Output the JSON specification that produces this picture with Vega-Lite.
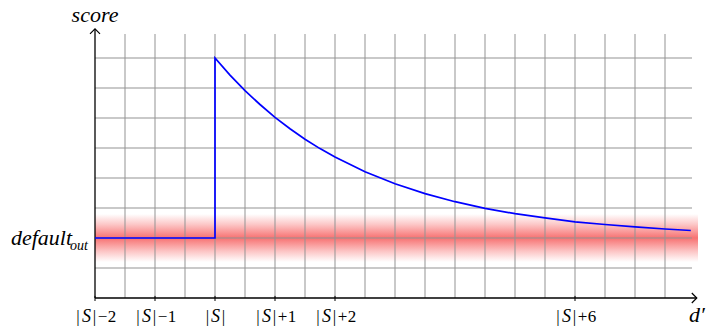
{
  "$schema": "https://vega.github.io/schema/vega-lite/v6.json",
  "width": 600,
  "height": 270,
  "autosize": {"type": "none"},
  "padding": {"left": 95, "top": 28, "right": 11, "bottom": 28},
  "background": "white",
  "config": {"view": {"stroke": null}},
  "datasets": {
    "band": [{"x0": -2, "x1": 8.05, "y0": 1.2, "y1": 2.8}],
    "vgrid": [{"x": -1.5}, {"x": -1}, {"x": -0.5}, {"x": 0}, {"x": 0.5}, {"x": 1}, {"x": 1.5}, {"x": 2}, {"x": 2.5}, {"x": 3}, {"x": 3.5}, {"x": 4}, {"x": 4.5}, {"x": 5}, {"x": 5.5}, {"x": 6}, {"x": 6.5}, {"x": 7}, {"x": 7.5}],
    "hgrid": [{"y": 1}, {"y": 2}, {"y": 3}, {"y": 4}, {"y": 5}, {"y": 6}, {"y": 7}, {"y": 8}],
    "ticks": [
      {"x": -2, "sign": "−", "digit": "2"},
      {"x": -1, "sign": "−", "digit": "1"},
      {"x": 0, "sign": "", "digit": ""},
      {"x": 1, "sign": "+", "digit": "1"},
      {"x": 2, "sign": "+", "digit": "2"},
      {"x": 6, "sign": "+", "digit": "6"}
    ],
    "score": [
      {"i": 0, "d": -2, "s": 2},
      {"i": 1, "d": 0, "s": 2},
      {"i": 2, "d": 0, "s": 8},
      {"i": 3, "d": 0.25, "s": 7.43},
      {"i": 4, "d": 0.5, "s": 6.91},
      {"i": 5, "d": 0.75, "s": 6.45},
      {"i": 6, "d": 1, "s": 6.02},
      {"i": 7, "d": 1.25, "s": 5.64},
      {"i": 8, "d": 1.5, "s": 5.29},
      {"i": 9, "d": 1.75, "s": 4.98},
      {"i": 10, "d": 2, "s": 4.70},
      {"i": 11, "d": 2.5, "s": 4.21},
      {"i": 12, "d": 3, "s": 3.81},
      {"i": 13, "d": 3.5, "s": 3.48},
      {"i": 14, "d": 4, "s": 3.21},
      {"i": 15, "d": 4.5, "s": 2.99},
      {"i": 16, "d": 5, "s": 2.81},
      {"i": 17, "d": 5.5, "s": 2.67},
      {"i": 18, "d": 6, "s": 2.54},
      {"i": 19, "d": 6.5, "s": 2.45},
      {"i": 20, "d": 7, "s": 2.37},
      {"i": 21, "d": 7.5, "s": 2.30},
      {"i": 22, "d": 7.93, "s": 2.25}
    ]
  },
  "layer": [
    {
      "data": {"name": "band"},
      "mark": {"type": "rect", "stroke": null, "fill": {"gradient": "linear", "x1": 0, "y1": 0, "x2": 0, "y2": 1, "stops": [{"offset": 0, "color": "#ffffff"}, {"offset": 0.22, "color": "#fcc6c6"}, {"offset": 0.5, "color": "#f77272"}, {"offset": 0.78, "color": "#fcc6c6"}, {"offset": 1, "color": "#ffffff"}]}},
      "encoding": {
        "x": {"field": "x0", "type": "quantitative", "scale": {"domain": [-2, 8], "nice": false, "zero": false}, "axis": null},
        "x2": {"field": "x1"},
        "y": {"field": "y0", "type": "quantitative", "scale": {"domain": [0, 9], "nice": false, "zero": false}, "axis": null},
        "y2": {"field": "y1"}
      }
    },
    {
      "data": {"name": "vgrid"},
      "mark": {"type": "rule", "color": "#939393", "strokeWidth": 1},
      "encoding": {
        "x": {"field": "x", "type": "quantitative", "scale": {"domain": [-2, 8], "nice": false, "zero": false}, "axis": null},
        "y": {"datum": 0, "type": "quantitative", "scale": {"domain": [0, 9], "nice": false, "zero": false}, "axis": null},
        "y2": {"datum": 8.8}
      }
    },
    {
      "data": {"name": "hgrid"},
      "mark": {"type": "rule", "color": "#939393", "strokeWidth": 1},
      "encoding": {
        "y": {"field": "y", "type": "quantitative", "scale": {"domain": [0, 9], "nice": false, "zero": false}, "axis": null},
        "x": {"datum": -2, "type": "quantitative", "scale": {"domain": [-2, 8], "nice": false, "zero": false}, "axis": null},
        "x2": {"datum": 7.95}
      }
    },
    {
      "data": {"values": [{}]},
      "mark": {"type": "rule", "color": "black", "strokeWidth": 1.3},
      "encoding": {
        "x": {"datum": -2, "type": "quantitative", "scale": {"domain": [-2, 8], "nice": false, "zero": false}, "axis": null},
        "x2": {"datum": 8.03},
        "y": {"datum": 0, "type": "quantitative", "scale": {"domain": [0, 9], "nice": false, "zero": false}, "axis": null}
      }
    },
    {
      "data": {"values": [{}]},
      "mark": {"type": "rule", "color": "black", "strokeWidth": 1.3},
      "encoding": {
        "x": {"datum": -2, "type": "quantitative", "scale": {"domain": [-2, 8], "nice": false, "zero": false}, "axis": null},
        "y": {"datum": 0, "type": "quantitative", "scale": {"domain": [0, 9], "nice": false, "zero": false}, "axis": null},
        "y2": {"datum": 8.97}
      }
    },
    {
      "data": {"values": [{}]},
      "mark": {"type": "point", "shape": "M-1,-1L0,0L-1,1", "filled": false, "stroke": "black", "strokeWidth": 1.2, "size": 100, "opacity": 1},
      "encoding": {
        "x": {"datum": 8.03, "type": "quantitative", "scale": {"domain": [-2, 8], "nice": false, "zero": false}, "axis": null},
        "y": {"datum": 0, "type": "quantitative", "scale": {"domain": [0, 9], "nice": false, "zero": false}, "axis": null}
      }
    },
    {
      "data": {"values": [{}]},
      "mark": {"type": "point", "shape": "M-1,1L0,0L1,1", "filled": false, "stroke": "black", "strokeWidth": 1.2, "size": 100, "opacity": 1},
      "encoding": {
        "x": {"datum": -2, "type": "quantitative", "scale": {"domain": [-2, 8], "nice": false, "zero": false}, "axis": null},
        "y": {"datum": 8.97, "type": "quantitative", "scale": {"domain": [0, 9], "nice": false, "zero": false}, "axis": null}
      }
    },
    {
      "data": {"name": "ticks"},
      "mark": {"type": "rule", "color": "black", "strokeWidth": 1},
      "encoding": {
        "x": {"field": "x", "type": "quantitative", "scale": {"domain": [-2, 8], "nice": false, "zero": false}, "axis": null},
        "y": {"datum": -0.1, "type": "quantitative", "scale": {"domain": [0, 9], "nice": false, "zero": false}, "axis": null},
        "y2": {"datum": 0.07}
      }
    },
    {
      "data": {"name": "score"},
      "mark": {"type": "line", "color": "#0000ff", "strokeWidth": 1.7, "interpolate": "linear"},
      "encoding": {
        "x": {"field": "d", "type": "quantitative", "scale": {"domain": [-2, 8], "nice": false, "zero": false}, "axis": null},
        "y": {"field": "s", "type": "quantitative", "scale": {"domain": [0, 9], "nice": false, "zero": false}, "axis": null},
        "order": {"field": "i", "type": "quantitative"}
      }
    },
    {
      "data": {"name": "ticks"},
      "transform": [{"filter": "datum.sign != ''"}],
      "mark": {"type": "text", "text": "|", "font": "Liberation Serif", "fontSize": 17, "baseline": "alphabetic", "align": "center", "dx": -17, "dy": 24, "color": "black"},
      "encoding": {
        "x": {"field": "x", "type": "quantitative", "scale": {"domain": [-2, 8], "nice": false, "zero": false}, "axis": null},
        "y": {"datum": 0, "type": "quantitative", "scale": {"domain": [0, 9], "nice": false, "zero": false}, "axis": null}
      }
    },
    {
      "data": {"name": "ticks"},
      "transform": [{"filter": "datum.sign != ''"}],
      "mark": {"type": "text", "text": "S", "font": "Liberation Serif", "fontStyle": "italic", "fontSize": 18, "baseline": "alphabetic", "align": "center", "dx": -8.5, "dy": 24, "color": "black"},
      "encoding": {
        "x": {"field": "x", "type": "quantitative", "scale": {"domain": [-2, 8], "nice": false, "zero": false}, "axis": null},
        "y": {"datum": 0, "type": "quantitative", "scale": {"domain": [0, 9], "nice": false, "zero": false}, "axis": null}
      }
    },
    {
      "data": {"name": "ticks"},
      "transform": [{"filter": "datum.sign != ''"}],
      "mark": {"type": "text", "text": "|", "font": "Liberation Serif", "fontSize": 17, "baseline": "alphabetic", "align": "center", "dx": -0.5, "dy": 24, "color": "black"},
      "encoding": {
        "x": {"field": "x", "type": "quantitative", "scale": {"domain": [-2, 8], "nice": false, "zero": false}, "axis": null},
        "y": {"datum": 0, "type": "quantitative", "scale": {"domain": [0, 9], "nice": false, "zero": false}, "axis": null}
      }
    },
    {
      "data": {"name": "ticks"},
      "transform": [{"filter": "datum.sign != ''"}],
      "mark": {"type": "text", "font": "Liberation Serif", "fontSize": 17, "baseline": "alphabetic", "align": "center", "dx": 7.5, "dy": 24, "color": "black"},
      "encoding": {
        "x": {"field": "x", "type": "quantitative", "scale": {"domain": [-2, 8], "nice": false, "zero": false}, "axis": null},
        "y": {"datum": 0, "type": "quantitative", "scale": {"domain": [0, 9], "nice": false, "zero": false}, "axis": null},
        "text": {"field": "sign"}
      }
    },
    {
      "data": {"name": "ticks"},
      "transform": [{"filter": "datum.sign != ''"}],
      "mark": {"type": "text", "font": "Liberation Serif", "fontSize": 17, "baseline": "alphabetic", "align": "center", "dx": 17, "dy": 24, "color": "black"},
      "encoding": {
        "x": {"field": "x", "type": "quantitative", "scale": {"domain": [-2, 8], "nice": false, "zero": false}, "axis": null},
        "y": {"datum": 0, "type": "quantitative", "scale": {"domain": [0, 9], "nice": false, "zero": false}, "axis": null},
        "text": {"field": "digit"}
      }
    },
    {
      "data": {"name": "ticks"},
      "transform": [{"filter": "datum.sign == ''"}],
      "mark": {"type": "text", "text": "|", "font": "Liberation Serif", "fontSize": 17, "baseline": "alphabetic", "align": "center", "dx": -7.5, "dy": 24, "color": "black"},
      "encoding": {
        "x": {"field": "x", "type": "quantitative", "scale": {"domain": [-2, 8], "nice": false, "zero": false}, "axis": null},
        "y": {"datum": 0, "type": "quantitative", "scale": {"domain": [0, 9], "nice": false, "zero": false}, "axis": null}
      }
    },
    {
      "data": {"name": "ticks"},
      "transform": [{"filter": "datum.sign == ''"}],
      "mark": {"type": "text", "text": "S", "font": "Liberation Serif", "fontStyle": "italic", "fontSize": 18, "baseline": "alphabetic", "align": "center", "dx": 0.5, "dy": 24, "color": "black"},
      "encoding": {
        "x": {"field": "x", "type": "quantitative", "scale": {"domain": [-2, 8], "nice": false, "zero": false}, "axis": null},
        "y": {"datum": 0, "type": "quantitative", "scale": {"domain": [0, 9], "nice": false, "zero": false}, "axis": null}
      }
    },
    {
      "data": {"name": "ticks"},
      "transform": [{"filter": "datum.sign == ''"}],
      "mark": {"type": "text", "text": "|", "font": "Liberation Serif", "fontSize": 17, "baseline": "alphabetic", "align": "center", "dx": 8.5, "dy": 24, "color": "black"},
      "encoding": {
        "x": {"field": "x", "type": "quantitative", "scale": {"domain": [-2, 8], "nice": false, "zero": false}, "axis": null},
        "y": {"datum": 0, "type": "quantitative", "scale": {"domain": [0, 9], "nice": false, "zero": false}, "axis": null}
      }
    },
    {
      "data": {"values": [{}]},
      "mark": {"type": "text", "text": "score", "font": "Liberation Serif", "fontStyle": "italic", "fontSize": 22, "baseline": "alphabetic", "align": "center", "dy": -7, "color": "black"},
      "encoding": {
        "x": {"datum": -2, "type": "quantitative", "scale": {"domain": [-2, 8], "nice": false, "zero": false}, "axis": null},
        "y": {"datum": 8.97, "type": "quantitative", "scale": {"domain": [0, 9], "nice": false, "zero": false}, "axis": null}
      }
    },
    {
      "data": {"values": [{}]},
      "mark": {"type": "text", "text": "d′", "font": "Liberation Serif", "fontStyle": "italic", "fontSize": 22, "baseline": "alphabetic", "align": "center", "dy": 24, "color": "black"},
      "encoding": {
        "x": {"datum": 8.03, "type": "quantitative", "scale": {"domain": [-2, 8], "nice": false, "zero": false}, "axis": null},
        "y": {"datum": 0, "type": "quantitative", "scale": {"domain": [0, 9], "nice": false, "zero": false}, "axis": null}
      }
    },
    {
      "data": {"values": [{}]},
      "mark": {"type": "text", "text": "default", "font": "Liberation Serif", "fontStyle": "italic", "fontSize": 22, "baseline": "alphabetic", "align": "right", "dx": -23, "dy": 6.5, "color": "black"},
      "encoding": {
        "x": {"datum": -2, "type": "quantitative", "scale": {"domain": [-2, 8], "nice": false, "zero": false}, "axis": null},
        "y": {"datum": 2, "type": "quantitative", "scale": {"domain": [0, 9], "nice": false, "zero": false}, "axis": null}
      }
    },
    {
      "data": {"values": [{}]},
      "mark": {"type": "text", "text": "out", "font": "Liberation Serif", "fontStyle": "italic", "fontSize": 14, "baseline": "alphabetic", "align": "right", "dx": -7, "dy": 12, "color": "black"},
      "encoding": {
        "x": {"datum": -2, "type": "quantitative", "scale": {"domain": [-2, 8], "nice": false, "zero": false}, "axis": null},
        "y": {"datum": 2, "type": "quantitative", "scale": {"domain": [0, 9], "nice": false, "zero": false}, "axis": null}
      }
    }
  ]
}
